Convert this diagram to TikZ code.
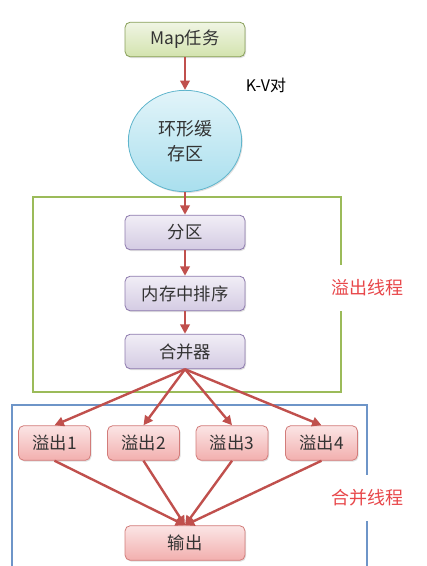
\documentclass[tikz,border=0pt]{standalone}
\usepackage{fontspec}
\setmainfont{Noto Sans CJK SC}
\usetikzlibrary{arrows.meta,shadows,shapes.geometric}
\definecolor{arr}{HTML}{C0504D}
\definecolor{grnb}{HTML}{9BBB59}
\definecolor{grnt}{HTML}{F0F5E4}
\definecolor{grnbt}{HTML}{D3E3AE}
\definecolor{purb}{HTML}{8E7BAE}
\definecolor{purt}{HTML}{F1EEF6}
\definecolor{purbt}{HTML}{D4CBE3}
\definecolor{redb}{HTML}{D27C7A}
\definecolor{redt}{HTML}{FBE5E5}
\definecolor{redbt}{HTML}{F2AFAE}
\definecolor{blub}{HTML}{5FB5CC}
\definecolor{blut}{HTML}{E2F4F9}
\definecolor{blubt}{HTML}{A9DFEE}
\definecolor{frameblue}{HTML}{6E95C8}
\definecolor{labred}{HTML}{E8474A}
\definecolor{txt}{HTML}{333333}
\tikzset{
  box/.style={rounded corners=4pt, minimum height=26pt, font=\fontsize{13}{15}\selectfont, text=txt, inner sep=0pt,
    drop shadow={shadow xshift=0.8pt, shadow yshift=-1pt, opacity=0.25}},
  gbox/.style={box, draw=grnb!80!black!90, line width=0.6pt, top color=grnt, bottom color=grnbt, minimum width=90pt},
  pbox/.style={box, draw=purb, line width=0.6pt, top color=purt, bottom color=purbt, minimum width=90pt},
  rbox/.style={box, draw=redb, line width=0.6pt, top color=redt, bottom color=redbt, minimum width=54pt},
  conn/.style={draw=arr, line width=1.8pt, -{Triangle[length=7pt,width=7pt]}},
  frlabel/.style={fill=white, text=labred, font=\fontsize{13.5}{15}\selectfont, inner sep=2pt},
}
\begin{document}
\begin{tikzpicture}[x=0.75pt,y=-0.75pt]
\useasboundingbox (0,0) rectangle (426,566);
% frames
\draw[grnb, line width=1.3pt] (33,197) rectangle (341,392);
\draw[frameblue, line width=1.3pt] (12,570) -- (12,405) -- (367,405) -- (367,570);
\node[frlabel, minimum height=34pt] (lab1) at (367,288) {溢出线程};
\node[frlabel, minimum height=34pt] (lab2) at (367,498) {合并线程};
% nodes
\node[gbox] (map) at (185,39.5) {Map任务};
\node[ellipse, draw=blub, line width=0.6pt, top color=blut, bottom color=blubt, minimum width=85pt, minimum height=76pt,
  font=\fontsize{13.5}{19}\selectfont, text=txt, align=center, inner sep=0pt,
  drop shadow={shadow xshift=0.8pt, shadow yshift=-1pt, opacity=0.25}] (ring) at (185,141) {环形缓\\存区};
\node[font=\fontsize{12}{14}\selectfont, text=black] (kv) at (266,85) {K-V对};
\node[pbox] (part) at (185,232.5) {分区};
\node[pbox] (sort) at (185,293.5) {内存中排序};
\node[pbox] (merge) at (185,351.5) {合并器};
\node[rbox] (s1) at (54.5,443) {溢出1};
\node[rbox] (s2) at (143.5,443) {溢出2};
\node[rbox] (s3) at (232,443) {溢出3};
\node[rbox] (s4) at (321.5,443) {溢出4};
\node[pbox, draw=redb, top color=redt, bottom color=redbt] (out) at (185,543) {输出};
% connectors
\draw[conn] (map) -- (ring);
\draw[conn] (ring) -- (part);
\draw[conn] (part) -- (sort);
\draw[conn] (sort) -- (merge);
\foreach \s in {s1,s2,s3,s4}{
  \draw[conn] (merge.south) -- (\s.north);
  \draw[conn] (\s.south) -- (out.north);
}
\end{tikzpicture}
\end{document}
